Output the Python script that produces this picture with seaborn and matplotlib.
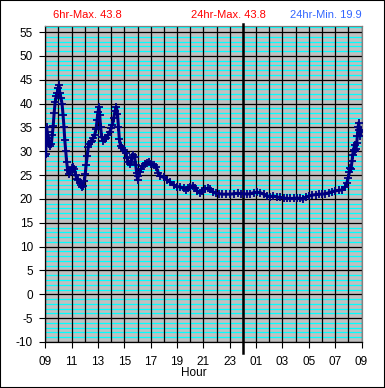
import matplotlib
matplotlib.use("Agg")
import matplotlib.pyplot as plt
from matplotlib.ticker import MultipleLocator, FixedLocator
from matplotlib.patches import Rectangle
import seaborn as sns
import pandas as pd

# ---- data (hours after 09:00 start, as decimal hour of day continuing past 24) ----
hours = [
    9.00, 9.03, 9.07, 9.10, 9.15, 9.22, 9.30, 9.38, 9.46, 9.53, 9.60, 9.67, 9.75, 9.83, 9.91, 9.98,
    10.03, 10.10, 10.18, 10.27, 10.35, 10.42, 10.48, 10.55, 10.62, 10.70, 10.80, 10.90,
    11.00, 11.10, 11.20, 11.30, 11.40, 11.50, 11.60, 11.70, 11.80, 11.88, 11.95,
    12.03, 12.10, 12.18, 12.26, 12.35, 12.45, 12.55, 12.65, 12.75, 12.85, 12.93,
    13.00, 13.07, 13.13, 13.20, 13.28, 13.38, 13.50, 13.62, 13.75, 13.88,
    14.00, 14.10, 14.20, 14.30, 14.40, 14.48, 14.55, 14.62, 14.72, 14.85,
    15.00, 15.10, 15.20, 15.30, 15.40, 15.50, 15.60, 15.68, 15.78, 15.86, 15.93,
    16.00, 16.07, 16.15, 16.25, 16.40, 16.55, 16.70, 16.85,
    17.00, 17.23, 17.43, 17.59, 17.74, 17.99, 18.24, 18.49, 18.75,
    19.00, 19.25, 19.50, 19.66, 19.81, 20.01, 20.21, 20.36, 20.52, 20.72, 20.92,
    21.12, 21.32, 21.53, 21.73, 21.93, 22.18, 22.43, 22.69, 23.04, 23.34, 23.60, 23.85,
    24.10, 24.30, 24.56, 24.81, 25.06, 25.31, 25.57, 25.82, 26.07, 26.32, 26.58, 26.83,
    27.08, 27.33, 27.59, 27.84, 28.09, 28.34, 28.55, 28.75, 29.00, 29.25, 29.51, 29.76,
    30.01, 30.26, 30.52, 30.77, 31.02, 31.27, 31.53, 31.73, 31.88, 31.98, 32.08, 32.13,
    32.20, 32.28, 32.33, 32.40, 32.47, 32.52, 32.58, 32.64, 32.69, 32.74, 32.79, 32.84,
    32.89, 32.94,
]
temps = [
    29.0, 29.5, 33.0, 35.0, 34.0, 32.8, 31.5, 31.2, 31.6, 33.5, 35.3, 38.0, 40.3, 41.6, 42.3, 43.2,
    43.8, 42.3, 41.2, 40.0, 37.5, 35.0, 32.3, 30.0, 27.8, 26.0, 25.3, 25.6,
    26.5, 26.6, 26.3, 25.0, 24.2, 23.9, 23.4, 23.0, 22.5, 22.8, 23.8,
    25.2, 27.2, 29.0, 30.8, 31.5, 32.0, 32.2, 32.8, 33.5, 34.6, 36.5,
    38.2, 39.3, 37.5, 35.0, 33.0, 32.2, 32.5, 32.8, 33.3, 34.0,
    34.8, 35.6, 37.0, 38.5, 39.3, 37.8, 35.0, 32.5, 31.0, 30.6,
    30.2, 29.6, 28.6, 27.7, 27.3, 27.8, 28.8, 29.2, 28.7, 27.2, 25.5,
    24.0, 24.8, 25.6, 26.3, 26.9, 27.3, 27.6, 27.7,
    27.4, 27.1, 26.6, 25.4, 24.8, 24.5, 24.0, 23.5, 22.9,
    22.6, 22.5, 22.2, 21.9, 22.2, 22.6, 22.8, 22.3, 21.7, 21.3, 21.7,
    22.1, 22.2, 22.0, 21.5, 21.2, 21.1, 21.0, 21.0, 21.0, 21.1, 21.2, 21.1,
    21.1, 21.0, 21.1, 21.3, 21.4, 21.3, 21.0, 20.6, 20.5, 20.6, 20.4, 20.3,
    20.2, 20.1, 20.1, 20.1, 20.2, 20.1, 19.9, 20.3, 20.6, 20.8, 20.9, 21.0,
    21.0, 21.1, 21.3, 21.5, 21.7, 21.8, 21.9, 22.4, 23.3, 24.3, 25.6, 26.4,
    26.2, 27.9, 29.3, 30.2, 31.3, 30.0, 30.4, 31.8, 33.2, 35.0, 36.0, 34.5,
    33.2, 34.0,
]

xtick_pos = [9, 11, 13, 15, 17, 19, 21, 23, 25, 27, 29, 31, 33]
xtick_labels = ["09", "11", "13", "15", "17", "19", "21", "23", "01", "03", "05", "07", "09"]
ytick_pos = [-10, -5, 0, 5, 10, 15, 20, 25, 30, 35, 40, 45, 50, 55]
titles = ["6hr-Max. 43.8", "24hr-Max. 43.8", "24hr-Min. 19.9"]
title_colors = ["#FF0000", "#FF0000", "#3366FF"]
midnight = 24

df = pd.DataFrame({"hour": hours, "temp": temps})

plt.rcParams["font.family"] = ["Liberation Sans", "DejaVu Sans"]

W, H = 385, 388
fig = plt.figure(figsize=(W / 100, H / 100), dpi=100)
fig.patch.set_facecolor("white")
L, R, T, B = 45.3, 361.5, 26, 342
ax = fig.add_axes([L / W, 1 - B / H, (R - L) / W, (B - T) / H])
ax.set_facecolor("#C0C0C0")

sns.lineplot(data=df, x="hour", y="temp", ax=ax, color="#000080",
             marker="+", markersize=5.5, markeredgewidth=1.3, linewidth=2.2,
             markeredgecolor="#000080", sort=False, zorder=5)

ax.set_xlim(9, 33)
ax.set_ylim(-10, 56.26)

ax.xaxis.set_major_locator(FixedLocator(xtick_pos))
ax.set_xticklabels(xtick_labels)
ax.xaxis.set_minor_locator(MultipleLocator(1))
ax.yaxis.set_major_locator(FixedLocator(ytick_pos))
ax.set_yticklabels([str(v) for v in ytick_pos])
ax.yaxis.set_minor_locator(MultipleLocator(1))

ax.tick_params(axis="both", which="major", direction="out", length=4, width=0.8,
               color="black", labelsize=8.5, labelcolor="black")
ax.tick_params(axis="x", which="major", pad=6)
ax.tick_params(axis="y", which="major", pad=5)
ax.tick_params(axis="both", which="minor", length=0)

ax.set_axisbelow(True)
ax.grid(True, axis="y", which="minor", color="#00FFFF", linewidth=0.9)
ax.grid(True, axis="y", which="major", color="black", linewidth=0.9)
ax.grid(True, axis="x", which="both", color="black", linewidth=0.9)
ax.xaxis.set_zorder(0.6)

for s in ["left", "bottom"]:
    ax.spines[s].set_color("black")
    ax.spines[s].set_linewidth(0.9)
for s in ["top", "right"]:
    ax.spines[s].set_color("#808080")
    ax.spines[s].set_linewidth(0.9)

ax.axvline(midnight, ymin=-0.035, ymax=1.007, color="black", linewidth=1.8,
           clip_on=False, zorder=4)

ax.set_xlabel("")
ax.set_ylabel("")

for txt, col, xc in zip(titles, title_colors, [87.7, 228, 326]):
    fig.text(xc / W, 1 - 15.5 / H, txt, color=col, fontsize=8, ha="center", va="center")
fig.text(194 / W, 1 - 373 / H, "Hour", color="black", fontsize=8.5, ha="center", va="center")

fig.add_artist(Rectangle((0, 0), 1, 1, transform=fig.transFigure, fill=False,
                         edgecolor="black", linewidth=1.5))

fig.savefig("out.png", dpi=100)
